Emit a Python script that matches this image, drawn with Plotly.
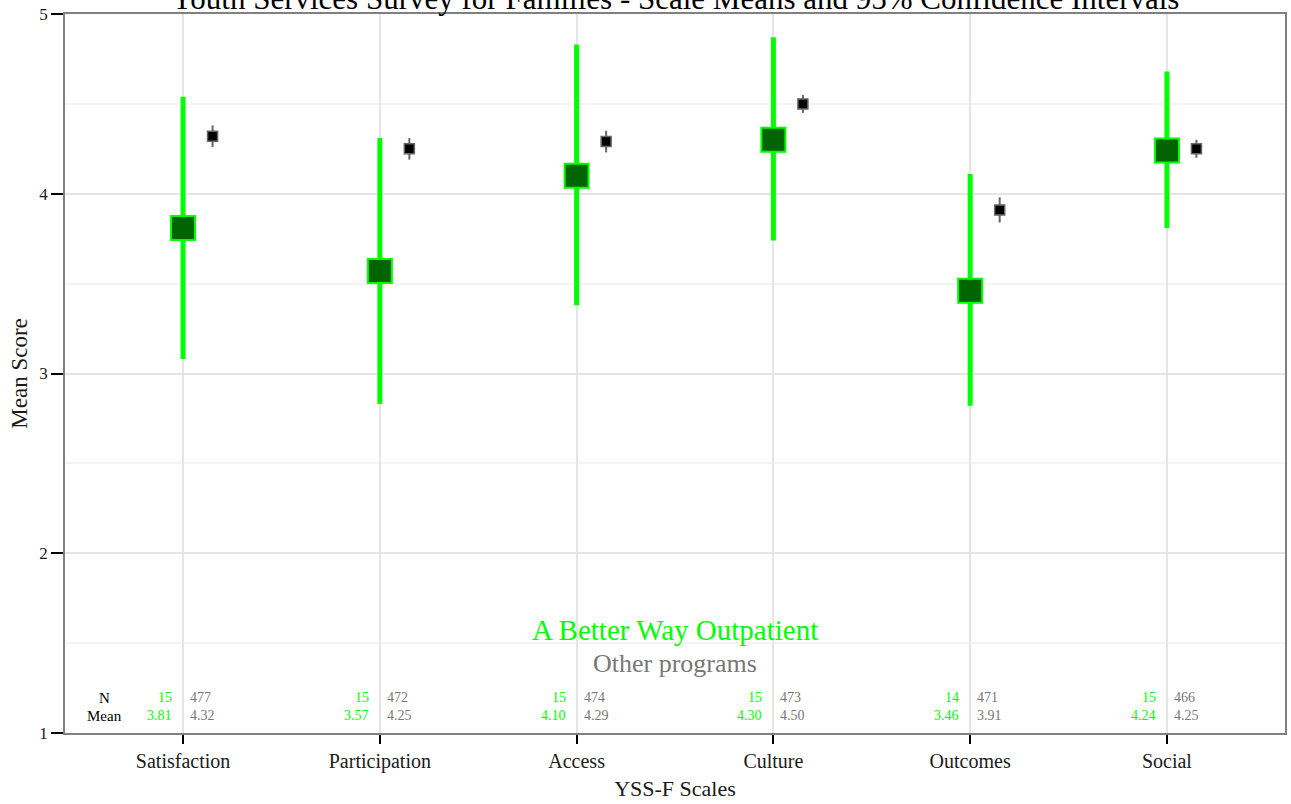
import plotly.graph_objects as go

categories = ["Satisfaction", "Participation", "Access", "Culture", "Outcomes", "Social"]
prog_mean = [3.81, 3.57, 4.10, 4.30, 3.46, 4.24]
prog_low = [3.08, 2.83, 3.38, 3.74, 2.82, 3.81]
prog_high = [4.54, 4.31, 4.83, 4.87, 4.11, 4.68]
prog_n = [15, 15, 15, 15, 14, 15]
other_mean = [4.32, 4.25, 4.29, 4.50, 3.91, 4.25]
other_low = [4.26, 4.19, 4.23, 4.45, 3.84, 4.20]
other_high = [4.38, 4.31, 4.35, 4.55, 3.98, 4.30]
other_n = [477, 472, 474, 473, 471, 466]

LIME = "#00FF00"
DARK = "#006400"
GRAY = "#777777"
FONT = "Liberation Serif"

xs = list(range(1, len(categories) + 1))
offset = 0.15
xo = [x + offset for x in xs]

fig = go.Figure()
fig.add_trace(go.Scatter(
    x=xs, y=prog_mean, mode="markers",
    error_y=dict(type="data", symmetric=False,
                 array=[h - m for h, m in zip(prog_high, prog_mean)],
                 arrayminus=[m - l for m, l in zip(prog_mean, prog_low)],
                 color=LIME, thickness=5, width=0),
    marker=dict(symbol="square", size=24, color=DARK, line=dict(color=LIME, width=2)),
    showlegend=False, hoverinfo="skip"))
fig.add_trace(go.Scatter(
    x=xo, y=other_mean, mode="markers",
    error_y=dict(type="data", symmetric=False,
                 array=[h - m for h, m in zip(other_high, other_mean)],
                 arrayminus=[m - l for m, l in zip(other_mean, other_low)],
                 color="#666666", thickness=2, width=0),
    marker=dict(symbol="square", size=10, color="black", line=dict(color="#666666", width=1.5)),
    showlegend=False, hoverinfo="skip"))

ann = []
y_n, y_mean = 1.195, 1.095
TS = 14
ann.append(dict(x=0.6, y=y_n, xref="x", yref="y", text="N", showarrow=False,
                font=dict(family=FONT, size=15, color="black")))
ann.append(dict(x=0.6, y=y_mean, xref="x", yref="y", text="Mean", showarrow=False,
                font=dict(family=FONT, size=15, color="black")))
for x, n, m, on, om in zip(xs, prog_n, prog_mean, other_n, other_mean):
    ann.append(dict(x=x, y=y_n, xref="x", yref="y", text=str(n), showarrow=False,
                    xanchor="right", xshift=-9, font=dict(family=FONT, size=TS, color=LIME)))
    ann.append(dict(x=x, y=y_mean, xref="x", yref="y", text=f"{m:.2f}", showarrow=False,
                    xanchor="right", xshift=-9, font=dict(family=FONT, size=TS, color=LIME)))
    ann.append(dict(x=x, y=y_n, xref="x", yref="y", text=str(on), showarrow=False,
                    xanchor="left", xshift=5, font=dict(family=FONT, size=TS, color=GRAY)))
    ann.append(dict(x=x, y=y_mean, xref="x", yref="y", text=f"{om:.2f}", showarrow=False,
                    xanchor="left", xshift=5, font=dict(family=FONT, size=TS, color=GRAY)))

ann.append(dict(x=3.5, y=1.573, xref="x", yref="y", text="A Better Way Outpatient", showarrow=False,
                font=dict(family=FONT, size=29, color=LIME)))
ann.append(dict(x=3.5, y=1.384, xref="x", yref="y", text="Other programs", showarrow=False,
                font=dict(family=FONT, size=26, color=GRAY)))
ann.append(dict(x=0.5, y=1, xref="paper", yref="paper", yanchor="bottom", yshift=-4,
                text="Youth Services Survey for Families - Scale Means and 95% Confidence Intervals",
                showarrow=False, font=dict(family=FONT, size=31, color="black")))

fig.update_layout(
    width=1291, height=804,
    margin=dict(l=65, r=6, t=14, b=71),
    paper_bgcolor="white", plot_bgcolor="white",
    font=dict(family=FONT, color="#1a1a1a"),
    annotations=ann,
    xaxis=dict(range=[0.4, 6.6], tickvals=xs, ticktext=categories, automargin=False,
               showgrid=True, gridcolor="#E5E5E5", gridwidth=2, zeroline=False,
               showline=True, linecolor="#808080", linewidth=1.5, mirror=True,
               ticks="outside", ticklen=9, tickwidth=2, tickcolor="black",
               tickfont=dict(family=FONT, size=20, color="#1a1a1a"),
               title=dict(text="YSS-F Scales", font=dict(family=FONT, size=22, color="#1a1a1a"), standoff=9)),
    yaxis=dict(range=[1, 5], tickvals=[1, 2, 3, 4, 5], automargin=False,
               showgrid=True, gridcolor="#E5E5E5", gridwidth=1.5, zeroline=False,
               minor=dict(tickvals=[1.5, 2.5, 3.5, 4.5], showgrid=True, gridcolor="#F4F4F4", gridwidth=1.5, ticks=""),
               showline=True, linecolor="#808080", linewidth=1.5, mirror=True,
               ticks="outside", ticklen=12, tickwidth=2, tickcolor="black",
               tickfont=dict(family=FONT, size=17, color="#1a1a1a"),
               title=dict(text="Mean Score", font=dict(family=FONT, size=23, color="#1a1a1a"), standoff=5)),
)

fig.write_html("out.html", config={"displayModeBar": False},
               post_script="document.body.style.margin='0';document.body.style.overflow='hidden';")
